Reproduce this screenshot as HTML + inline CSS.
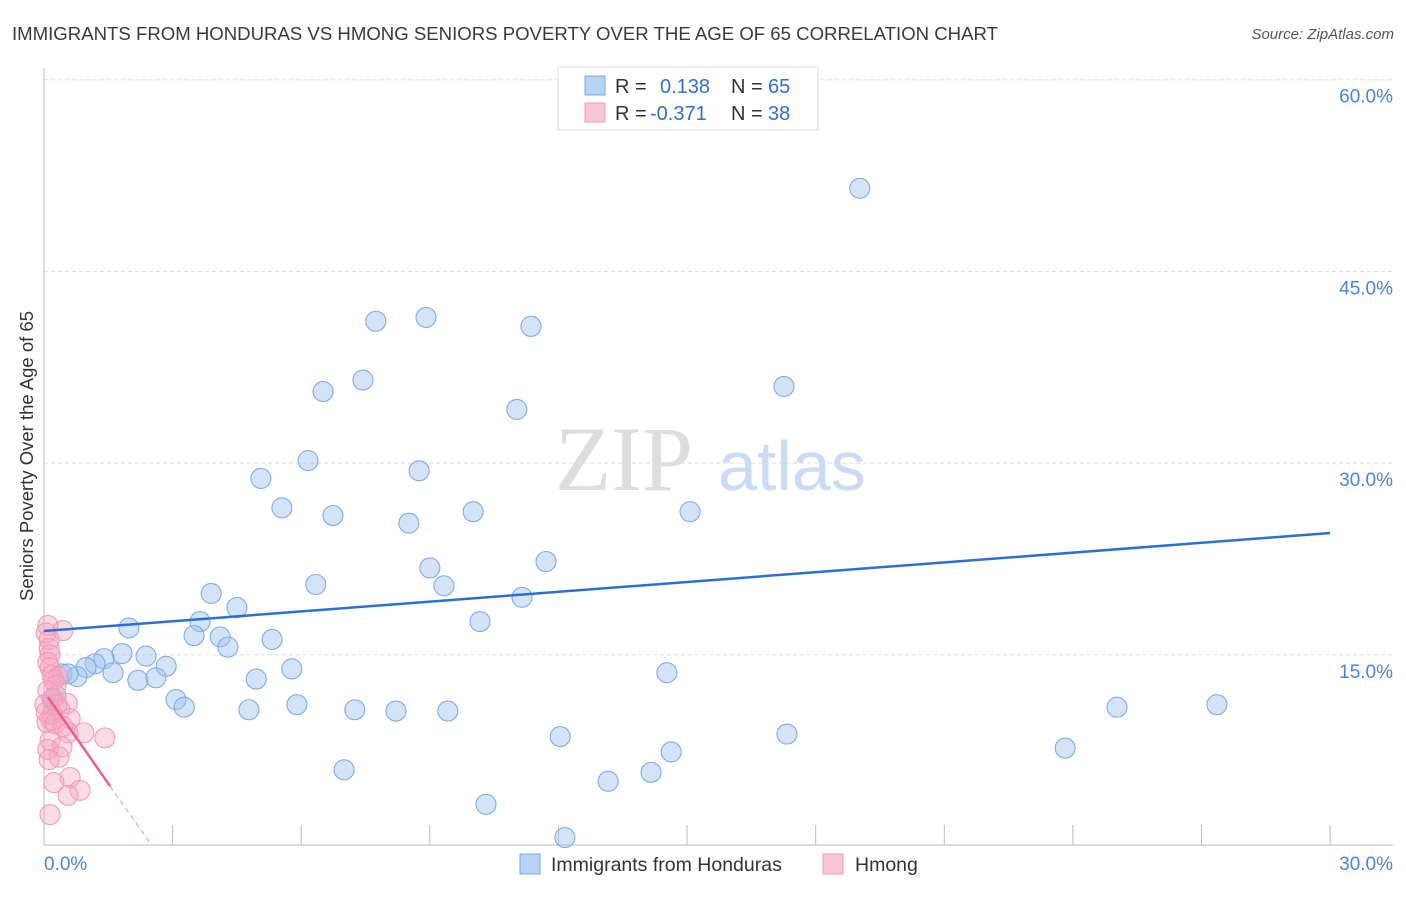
<!DOCTYPE html>
<html><head><meta charset="utf-8"><style>
body{margin:0;background:#fff;font-family:"Liberation Sans",sans-serif}
</style></head><body>
<svg id="chart" width="1406" height="892" xmlns="http://www.w3.org/2000/svg" font-family="Liberation Sans, sans-serif">
<text x="12" y="40" font-size="18.6" fill="#3a3a3a">IMMIGRANTS FROM HONDURAS VS HMONG SENIORS POVERTY OVER THE AGE OF 65 CORRELATION CHART</text>
<text x="1394" y="39" font-size="15" fill="#555" text-anchor="end" font-style="italic">Source: ZipAtlas.com</text>
<text transform="translate(33,456) rotate(-90)" font-size="18.5" fill="#333" text-anchor="middle">Seniors Poverty Over the Age of 65</text>
<text x="555" y="490" font-size="92" fill="#ddd" font-family="Liberation Serif, serif">ZIP</text>
<text x="718" y="490" font-size="70" fill="#c9dcf3">atlas</text>
<g id="grid"></g><g id="axes"></g><g id="pts"></g><g id="trends"></g>
<g>
<rect x="558" y="67" width="260" height="63" fill="#fff" stroke="#ddd"/>
<rect x="585" y="76" width="20" height="19" fill="#b8d3f5" stroke="#7aa8e6"/>
<rect x="585" y="103" width="20" height="19" fill="#f9c6d4" stroke="#f09ab4"/>
<text x="615" y="93" font-size="20" fill="#333">R = </text><text x="660" y="93" font-size="20" fill="#2f6fd0">0.138</text>
<text x="731" y="93" font-size="20" fill="#333">N = </text><text x="768" y="93" font-size="20" fill="#2f6fd0">65</text>
<text x="615" y="120" font-size="20" fill="#333">R = </text><text x="650" y="120" font-size="20" fill="#2f6fd0">-0.371</text>
<text x="731" y="120" font-size="20" fill="#333">N = </text><text x="768" y="120" font-size="20" fill="#2f6fd0">38</text>
</g>
<g>
<rect x="520" y="854" width="20" height="20" fill="#b8d3f5" stroke="#7aa8e6"/>
<text x="551" y="871" font-size="19.5" fill="#333">Immigrants from Honduras</text>
<rect x="823" y="854" width="20" height="20" fill="#f9c6d4" stroke="#f09ab4"/>
<text x="855" y="871" font-size="19.5" fill="#333">Hmong</text>
</g>
</svg>
<script>
const blueX=[19.03,7.74,8.91,11.36,6.51,7.44,11.03,17.26,6.16,8.75,5.06,5.55,6.74,8.51,10.01,15.07,11.71,9.00,9.33,6.34,3.90,11.15,4.50,3.64,10.17,1.98,3.50,4.11,5.32,4.29,1.82,2.38,1.40,1.19,0.98,2.85,0.42,0.77,0.56,1.61,5.78,2.19,2.61,4.95,14.53,3.08,3.27,4.78,5.90,7.25,8.21,9.42,25.03,27.36,12.04,17.33,23.82,14.63,7.00,14.16,13.16,10.31,12.15,0.28,0.19];
const blueY=[51.5,41.1,41.4,40.7,35.6,36.5,34.2,36.0,30.2,29.4,28.8,26.5,25.9,25.3,26.2,26.2,22.3,21.8,20.4,20.5,19.8,19.5,18.7,17.6,17.6,17.1,16.5,16.4,16.2,15.6,15.1,14.9,14.7,14.3,14.0,14.1,13.5,13.3,13.5,13.6,13.9,13.0,13.2,13.1,13.6,11.5,10.9,10.7,11.1,10.7,10.6,10.6,10.9,11.1,8.6,8.8,7.7,7.4,6.0,5.8,5.1,3.3,0.7,11.8,11.5];
const pinkX=[0.09,0.44,0.05,0.12,0.12,0.14,0.09,0.14,0.19,0.33,0.23,0.28,0.09,0.21,0.30,0.02,0.54,0.05,0.37,0.19,0.61,0.16,0.07,0.26,0.44,0.93,0.56,1.42,0.14,0.42,0.09,0.35,0.12,0.61,0.23,0.84,0.56,0.14];
const pinkY=[17.3,16.9,16.7,16.2,15.5,15.0,14.4,14.0,13.4,13.3,13.0,12.6,12.2,11.6,11.1,11.1,11.2,10.5,10.7,10.3,10.0,9.9,9.7,9.6,9.4,8.9,8.9,8.5,8.3,7.8,7.6,7.0,6.8,5.4,5.0,4.4,4.0,2.5];
const yTicks=[15,30,45,60];
const xTicks=[0,3,6,9,12,15,18,21,24,27,30];
const blueTrend=[[0,16.86],[30,24.53]];
const pinkTrend=[[0.09,11.7],[1.54,4.73]];
const pinkDash=[[1.54,4.73],[2.47,0.3]];
const X=v=>44+v*42.87, Y=v=>846.5-v*12.78;
const NS="http://www.w3.org/2000/svg";
function mk(t,a,p){const e=document.createElementNS(NS,t);for(const k in a)e.setAttribute(k,a[k]);p.appendChild(e);return e;}
const grid=document.getElementById('grid'),axes=document.getElementById('axes'),pts=document.getElementById('pts'),tr=document.getElementById('trends');
yTicks.forEach(v=>{
 const l=mk('line',{x1:44,x2:1393,y1:Y(v),y2:Y(v),stroke:'#ddd','stroke-dasharray':'4,3'},grid);
 
 
 const t=mk('text',{x:1393,y:Y(v)+23,'font-size':19,fill:'#4a84d8','text-anchor':'end'},grid);
 t.textContent=v.toFixed(1)+'%';
 
 
});
const al=mk('line',{x1:44,x2:44,y1:68,y2:845,stroke:'#bbb'},axes);


const bl=mk('line',{x1:44,x2:1393,y1:845,y2:845,stroke:'#bbb'},axes);


xTicks.forEach(v=>{
 if(v===0)return;
 const l=mk('line',{x1:X(v),x2:X(v),y1:825,y2:845,stroke:'#bbb'},axes);
 
 
});
[[0,'start'],[30,'end']].forEach(([v,a])=>{
 const t=mk('text',{x:v===0?44:1393,y:870,'font-size':19,fill:'#4a84d8','text-anchor':a},axes);
 t.textContent=v.toFixed(1)+'%';
 
 
});
blueX.forEach((v,i)=>{
 const c=mk('circle',{cx:X(v),cy:Y(blueY[i]),r:10,fill:'rgba(160,196,240,0.45)',stroke:'#7fabe6','stroke-width':1.1},pts);
 
 
});
pinkX.forEach((v,i)=>{
 const c=mk('circle',{cx:X(v),cy:Y(pinkY[i]),r:10,fill:'rgba(244,165,190,0.4)',stroke:'#f29ab8','stroke-width':1.1},pts);
 
 
});
const b=mk('line',{x1:X(blueTrend[0][0]),y1:Y(blueTrend[0][1]),x2:X(blueTrend[1][0]),y2:Y(blueTrend[1][1]),stroke:'#2a6fd6','stroke-width':2.5},tr);


const p=mk('line',{x1:X(pinkTrend[0][0]),y1:Y(pinkTrend[0][1]),x2:X(pinkTrend[1][0]),y2:Y(pinkTrend[1][1]),stroke:'#e8608f','stroke-width':2.5},tr);


const d=mk('line',{x1:X(pinkDash[0][0]),y1:Y(pinkDash[0][1]),x2:X(pinkDash[1][0]),y2:Y(pinkDash[1][1]),stroke:'#e8a0b8','stroke-width':1.2,'stroke-dasharray':'5,4'},tr);


</script>
</body></html>
